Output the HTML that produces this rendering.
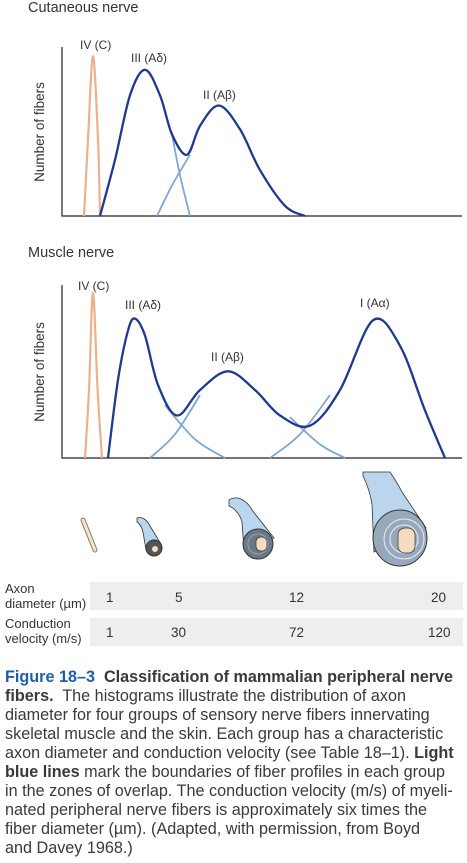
<!DOCTYPE html>
<html><head><meta charset="utf-8">
<style>
body{margin:0;background:#fff;width:467px;height:863px;overflow:hidden;font-family:"Liberation Sans",sans-serif;color:#333;position:relative}
.t{position:absolute;white-space:nowrap}
.cap{position:absolute;left:5px;top:668px;font-size:16.2px;line-height:19px;color:#3a3a3a;white-space:nowrap}
.cap b{color:#1f5ea8}
.row{position:absolute;left:90px;width:373px;height:28px;background:#eeeeee}
.rl{position:absolute;left:5px;font-size:13px;line-height:15px;color:#333}
.v{position:absolute;font-size:13.5px;color:#333}
</style></head><body>
<div class="t" style="left:28px;top:0px;font-size:14.5px">Cutaneous nerve</div>
<div class="t" style="left:28px;top:245px;font-size:14.5px">Muscle nerve</div>
<svg id="chart" width="467" height="470" style="position:absolute;left:0;top:0"></svg>
<svg width="467" height="110" style="position:absolute;left:0;top:470">
 <g><path d="M83,50 L95,80" stroke="#8a7a6a" stroke-width="5" stroke-linecap="round"/><path d="M83,50 L95,80" stroke="#f3e6d2" stroke-width="3" stroke-linecap="round"/></g>
 <g><path d="M137,48 C142,46 147,50 150,56 L161,74 L146,80 L143,62 C142,57 139,53 137,52 Z" fill="#bcd5ee" stroke="#333" stroke-width=".8"/><circle cx="154" cy="78" r="8" fill="#555" stroke="#333"/><circle cx="155" cy="79" r="3" fill="#f3dcc0"/></g>
 <g><path d="M229,30 C238,24 248,32 252,40 L274,68 L244,80 L242,52 C240,44 234,38 229,36 Z" fill="#bcd5ee" stroke="#333" stroke-width=".8"/><circle cx="258" cy="74" r="15" fill="#6c7888" stroke="#333"/><circle cx="258" cy="74" r="10" fill="none" stroke="#9aa6b4" stroke-width="1"/><rect x="256" y="67" width="11" height="14" rx="5" fill="#f3dcc0" stroke="#333" stroke-width=".7"/></g>
 <g><path d="M363,2 L390,2 C394,8 398,14 402,22 L426,58 L374,82 L372,34 C370,22 366,12 363,6 Z" fill="#bcd5ee" stroke="#333" stroke-width=".8"/><ellipse cx="400" cy="68" rx="27" ry="28" fill="#98a8bc" stroke="#333"/><circle cx="404" cy="69" r="20" fill="none" stroke="#e8eef5" stroke-width="1"/><circle cx="404" cy="69" r="14" fill="none" stroke="#e8eef5" stroke-width="1"/><rect x="398" y="58" width="17" height="25" rx="7" fill="#f3dcc0" stroke="#333" stroke-width=".7"/></g>
</svg>
<div class="row" style="top:582px"></div>
<div class="row" style="top:618px"></div>
<div class="rl" style="top:581px">Axon<br>diameter (µm)</div>
<div class="rl" style="top:616px">Conduction<br>velocity (m/s)</div>
<div class="v" style="left:106px;top:590px">1</div>
<div class="v" style="left:175px;top:590px">5</div>
<div class="v" style="left:289px;top:590px">12</div>
<div class="v" style="left:431px;top:590px">20</div>
<div class="v" style="left:106px;top:625px">1</div>
<div class="v" style="left:171px;top:625px">30</div>
<div class="v" style="left:289px;top:625px">72</div>
<div class="v" style="left:428px;top:625px">120</div>
<div class="cap"><b>Figure 18–3</b>&nbsp; <b style="color:#3a3a3a">Classification of mammalian peripheral nerve<br>fibers.</b>&nbsp; The histograms illustrate the distribution of axon<br>diameter for four groups of sensory nerve fibers innervating<br>skeletal muscle and the skin. Each group has a characteristic<br>axon diameter and conduction velocity (see Table 18–1). <b style="color:#3a3a3a">Light<br>blue lines</b> mark the boundaries of fiber profiles in each group<br>in the zones of overlap. The conduction velocity (m/s) of myeli-<br>nated peripheral nerve fibers is approximately six times the<br>fiber diameter (µm). (Adapted, with permission, from Boyd<br>and Davey 1968.)</div>
<script>
// Cutaneous nerve data (x: 0-100 diameter scale, y: 0-100 relative count)
const cutCX=[5.5,6.5,7.75,9,9.5];
const cutCY=[0,45,94,45,0];
const cutEnvX=[9.5,13.25,17,20.75,24.5,27.5,31.25,34.5,39.25,44.5,49.5,55.75,60.75];
const cutEnvY=[0,33,71,86,71,48,36,53,65,51,27,6,0];
const cutL1X=[27.5,29.5,32];
const cutL1Y=[48,24,0];
const cutL2X=[23.75,27.5,32];
const cutL2Y=[0,18,36];
// Muscle nerve data
const musCX=[5.75,6.75,7.75,8.9,10];
const musCY=[0,40,97,40,0];
const musEnvX=[11.5,14,16.5,18.25,20.75,24,28.75,34.5,41.5,48.25,54.5,62,69.5,77.75,84.5,90.75,95.75];
const musEnvY=[0,46,75,82,72,43,25,40,51,40,25,19,40,81,66,28,0];
const musL1X=[25.75,33.25,40.75];
const musL1Y=[31,11,0];
const musL2X=[22,28.25,34.5];
const musL2Y=[0,14,37];
const musL3X=[57,64.5,70.75];
const musL3Y=[24,8,0];
const musL4X=[52,59.5,67];
const musL4Y=[0,14,37];

const svg=document.getElementById('chart');
const NS='http://www.w3.org/2000/svg';
function xs(v){return 62+v*4;}
function mkY(b){return v=>b-v*1.7;}
function path(xa,ya,ys){
  const p=xa.map((x,i)=>[xs(x),ys(ya[i])]);
  let d='M'+p[0][0]+','+p[0][1];
  for(let i=0;i<p.length-1;i++){
    const p0=p[i-1]||p[i],p1=p[i],p2=p[i+1],p3=p[i+2]||p2;
    const c1=[p1[0]+(p2[0]-p0[0])/6,p1[1]+(p2[1]-p0[1])/6];
    const c2=[p2[0]-(p3[0]-p1[0])/6,p2[1]-(p3[1]-p1[1])/6];
    d+=' C'+c1+' '+c2+' '+p2;
  }
  return d;
}
function add(tag,attrs,name){
  const e=document.createElementNS(NS,tag);
  for(const k in attrs)e.setAttribute(k,attrs[k]);
  
  
  svg.appendChild(e);return e;
}
function curve(xa,ya,ys,color,w,name){
  add('path',{d:path(xa,ya,ys),fill:'none',stroke:color,'stroke-width':w},name);
}
function text(x,y,s,name,rot){
  const t=add('text',{x:x,y:y,'font-size':rot?13.5:12,'font-family':'Liberation Sans, sans-serif',fill:'#333'},name);
  if(rot){t.setAttribute('transform','rotate(-90 '+x+' '+y+')');t.setAttribute('text-anchor','middle');}
  t.textContent=s;
}
function panel(b,top,pre){
  const ys=mkY(b);
  add('path',{d:'M62,'+top+' V'+b+' H462',fill:'none',stroke:'#222','stroke-width':1.2},pre+'-axes');
  return ys;
}
const yc=panel(216,47,'cutaneous');
curve(cutL1X,cutL1Y,yc,'#7fa6d6',1.8,'cutaneous-boundary-iii');
curve(cutL2X,cutL2Y,yc,'#7fa6d6',1.8,'cutaneous-boundary-ii');
curve(cutCX,cutCY,yc,'#eeb08a',2.2,'cutaneous-curve-iv');
curve(cutEnvX,cutEnvY,yc,'#1e3a8a',2.3,'cutaneous-curve-envelope');
text(80,49,'IV (C)','label-iv-c');
text(131,62,'III (Aδ)','label-iii-adelta');
text(203,99,'II (Aβ)','label-ii-abeta');
text(44,132,'Number of fibers','cutaneous-y-title',true);
const ym=panel(458,285,'muscle');
curve(musL1X,musL1Y,ym,'#7fa6d6',1.8,'muscle-boundary-iii');
curve(musL2X,musL2Y,ym,'#7fa6d6',1.8,'muscle-boundary-ii-rise');
curve(musL3X,musL3Y,ym,'#7fa6d6',1.8,'muscle-boundary-ii-fall');
curve(musL4X,musL4Y,ym,'#7fa6d6',1.8,'muscle-boundary-i');
curve(musCX,musCY,ym,'#eeb08a',2.2,'muscle-curve-iv');
curve(musEnvX,musEnvY,ym,'#1e3a8a',2.3,'muscle-curve-envelope');
text(78,290,'IV (C)','label-iv-c-muscle');
text(125,309,'III (Aδ)','label-iii-muscle');
text(211,361,'II (Aβ)','label-ii-muscle');
text(360,307,'I (Aα)','label-i-muscle');
text(44,372,'Number of fibers','muscle-y-title',true);
</script>
</body></html>
